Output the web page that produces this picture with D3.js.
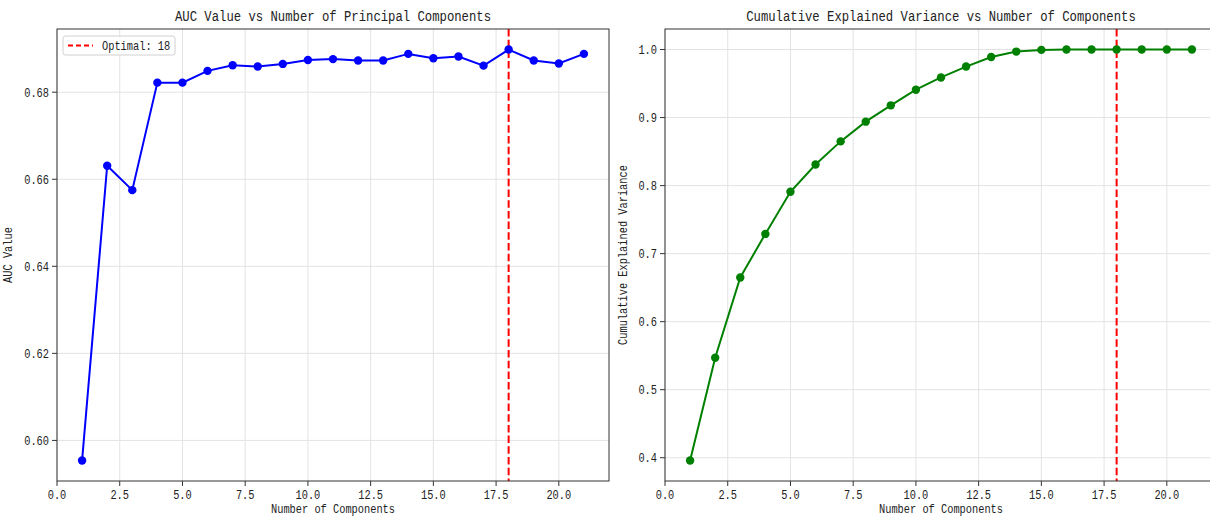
<!DOCTYPE html>
<html>
<head>
<meta charset="utf-8">
<script src="https://cdn.jsdelivr.net/npm/d3@7"></script>
<style>
  body { margin: 0; background: #fff; }
  svg { display: block; }
  text { font-family: "Liberation Mono", "DejaVu Sans Mono", monospace; fill: #222; }
</style>
</head>
<body>
<script>
// data
const components = [1, 2, 3, 4, 5, 6, 7, 8, 9, 10, 11, 12, 13, 14, 15, 16, 17, 18, 19, 20, 21]
const aucValues = [0.5954, 0.6631, 0.6575, 0.6822, 0.6822, 0.6849, 0.6862, 0.6859, 0.6865, 0.6874, 0.6876,
                   0.6873, 0.6873, 0.6888, 0.6878, 0.6882, 0.6861, 0.6898, 0.6873, 0.6866, 0.6888]
const varValues = [0.396, 0.547, 0.665, 0.729, 0.791, 0.831, 0.865, 0.894, 0.918, 0.941, 0.959,
                   0.975, 0.989, 0.997, 0.9995, 1.0, 1.0, 1.0, 1.0, 1.0, 1.0]
const xTicks = [0, 2.5, 5, 7.5, 10, 12.5, 15, 17.5, 20]
const aucTicks = [0.60, 0.62, 0.64, 0.66, 0.68]
const varTicks = [0.4, 0.5, 0.6, 0.7, 0.8, 0.9, 1.0]
const optimal = 18

const W = 1210, H = 516
const svg = d3.select("body").append("svg").attr("width", W).attr("height", H)

// mono font squeezed to half-em width, like the original CJK font
function label(g, str, fs) {
  return g.append("text").text(str)
    .style("font-size", fs + "px")
    .attr("textLength", str.length * fs * 0.5)
    .attr("lengthAdjust", "spacingAndGlyphs")
}

function panel(opt) {
  const left = opt.left, top = 29, w = 552, h = 452
  const g = svg.append("g").attr("transform", `translate(${left},${top})`)

  const x = d3.scaleLinear().domain([0, 22]).range([0, w])
  const ext = d3.extent(opt.values)
  const pad = (ext[1] - ext[0]) * 0.05
  const y = d3.scaleLinear().domain([ext[0] - pad, ext[1] + pad]).range([h, 0])

  // grid
  g.selectAll(".gx").data(xTicks).enter().append("line")
    .attr("x1", d => x(d)).attr("x2", d => x(d)).attr("y1", 0).attr("y2", h)
    .attr("stroke", "#e3e3e3").attr("stroke-width", 1)
  g.selectAll(".gy").data(opt.ticks).enter().append("line")
    .attr("x1", 0).attr("x2", w).attr("y1", d => y(d)).attr("y2", d => y(d))
    .attr("stroke", "#e3e3e3").attr("stroke-width", 1)

  // optimal line
  g.append("line")
    .attr("x1", x(optimal)).attr("x2", x(optimal)).attr("y1", 0).attr("y2", h)
    .attr("stroke", "#ff0000").attr("stroke-width", 2).attr("stroke-dasharray", "7.5,3.2")

  // series
  const line = d3.line().x((d, i) => x(components[i])).y(d => y(d))
  g.append("path").datum(opt.values)
    .attr("d", line).attr("fill", "none")
    .attr("stroke", opt.color).attr("stroke-width", 2)
  g.selectAll(".pt").data(opt.values).enter().append("circle")
    .attr("cx", (d, i) => x(components[i])).attr("cy", d => y(d))
    .attr("r", 4.2).attr("fill", opt.color)

  // frame
  g.append("rect").attr("width", w).attr("height", h)
    .attr("fill", "none").attr("stroke", "#333").attr("stroke-width", 1)

  // x ticks
  xTicks.forEach(t => {
    g.append("line").attr("x1", x(t)).attr("x2", x(t)).attr("y1", h).attr("y2", h + 5)
      .attr("stroke", "#333")
    label(g, t.toFixed(1), 12.4).attr("x", x(t)).attr("y", h + 18).attr("text-anchor", "middle")
  })
  // y ticks
  opt.ticks.forEach(t => {
    g.append("line").attr("x1", -5).attr("x2", 0).attr("y1", y(t)).attr("y2", y(t))
      .attr("stroke", "#333")
    label(g, t.toFixed(opt.digits), 12.4).attr("x", -8).attr("y", y(t) + 4.3).attr("text-anchor", "end")
  })

  label(g, "Number of Components", 12.4).attr("x", w / 2).attr("y", h + 32).attr("text-anchor", "middle")
  label(g, opt.ylabel, 12.4).attr("text-anchor", "middle")
    .attr("transform", `translate(${opt.ylabelX},${h / 2}) rotate(-90)`)
  label(g, opt.title, 14.7).attr("x", w / 2).attr("y", -8).attr("text-anchor", "middle")

  return { g, x, y }
}

const p1 = panel({
  left: 57, values: aucValues, color: "#0000ff", ticks: aucTicks, digits: 2,
  ylabel: "AUC Value", ylabelX: -45, title: "AUC Value vs Number of Principal Components"
})
panel({
  left: 665, values: varValues, color: "#008000", ticks: varTicks, digits: 1,
  ylabel: "Cumulative Explained Variance", ylabelX: -38,
  title: "Cumulative Explained Variance vs Number of Components"
})

// legend on the left panel
const lg = p1.g.append("g").attr("transform", "translate(6,7)")
lg.append("rect").attr("width", 112).attr("height", 19).attr("rx", 2.5)
  .attr("fill", "#fff").attr("fill-opacity", 0.8).attr("stroke", "#d0d0d0")
lg.append("line").attr("x1", 5).attr("x2", 30).attr("y1", 9.5).attr("y2", 9.5)
  .attr("stroke", "#ff0000").attr("stroke-width", 2).attr("stroke-dasharray", "5,3")
label(lg, "Optimal: 18", 12.4).attr("x", 39).attr("y", 13.8)
</script>
</body>
</html>
